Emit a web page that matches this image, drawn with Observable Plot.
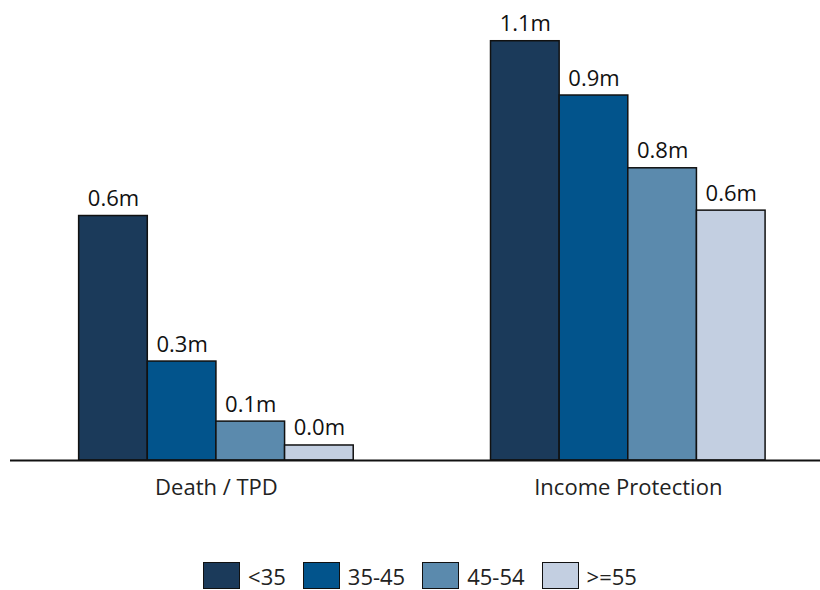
<!DOCTYPE html>
<html>
<head>
<meta charset="utf-8">
<script src="https://cdn.jsdelivr.net/npm/d3@7"></script>
<script src="https://cdn.jsdelivr.net/npm/@observablehq/plot@0.6"></script>
<style>
  html, body { margin: 0; padding: 0; background: #fff; }
  body { width: 820px; height: 590px; overflow: hidden; font-family: "Open Sans", sans-serif; }
  #chart svg { display: block; }
  #legend { display: flex; justify-content: center; margin-top: 42px; padding-left: 20px; }
  .item { display: flex; align-items: center; margin: 0 8.5px; font-size: 22px; line-height: 1; color: #222; height: 27px; }
  .item span { line-height: 1; }
  .sw { box-sizing: border-box; width: 37px; height: 27px; border: 1.5px solid #111; margin-right: 8px; }
</style>
</head>
<body>
<div id="chart"></div>
<div id="legend"></div>
<script>
const groups = ["Death / TPD", "Income Protection"];
const ages = ["<35", "35-45", "45-54", ">=55"];
const deathValues = [0.635, 0.257, 0.101, 0.039];
const incomeValues = [1.089, 0.948, 0.759, 0.649];
const colors = ["#1b3a5a", "#02548c", "#5b8aad", "#c3cfe1"];

const seriesByGroup = [deathValues, incomeValues];
const data = [];
groups.forEach((g, gi) => {
  ages.forEach((a, ai) => {
    const slot = gi * 6 + ai;
    data.push({group: g, age: a, value: seriesByGroup[gi][ai], x1: slot, x2: slot + 1, xc: slot + 0.5});
  });
});
const groupLabels = groups.map((g, gi) => ({group: g, x: gi * 6 + 2}));

const chart = Plot.plot({
  width: 820,
  height: 520,
  marginLeft: 10,
  marginRight: 0,
  marginTop: 2,
  marginBottom: 60,
  style: {fontFamily: "'Open Sans', sans-serif", background: "#fff"},
  x: {domain: [-1, 10.8], axis: null},
  y: {domain: [0, 1.1896], axis: null},
  color: {domain: ages, range: colors},
  marks: [
    Plot.rectY(data, {x1: "x1", x2: "x2", y: "value", fill: "age", stroke: "#111", strokeWidth: 1.5}),
    Plot.text(data, {x: "xc", y: "value", text: d => d3.format(".1f")(d.value) + "m", dy: -10, lineAnchor: "bottom", fontSize: 22, fill: "#111"}),
    Plot.ruleY([0], {stroke: "#111", strokeWidth: 2}),
    Plot.text(groupLabels, {x: "x", y: 0, text: "group", dy: 27, fontSize: 22, fill: "#222"})
  ]
});
document.getElementById("chart").appendChild(chart);

const legend = document.getElementById("legend");
ages.forEach((a, i) => {
  const item = document.createElement("div");
  item.className = "item";
  const sw = document.createElement("div");
  sw.className = "sw";
  sw.style.background = colors[i];
  const lab = document.createElement("span");
  lab.textContent = a;
  item.appendChild(sw);
  item.appendChild(lab);
  legend.appendChild(item);
});
</script>
</body>
</html>
